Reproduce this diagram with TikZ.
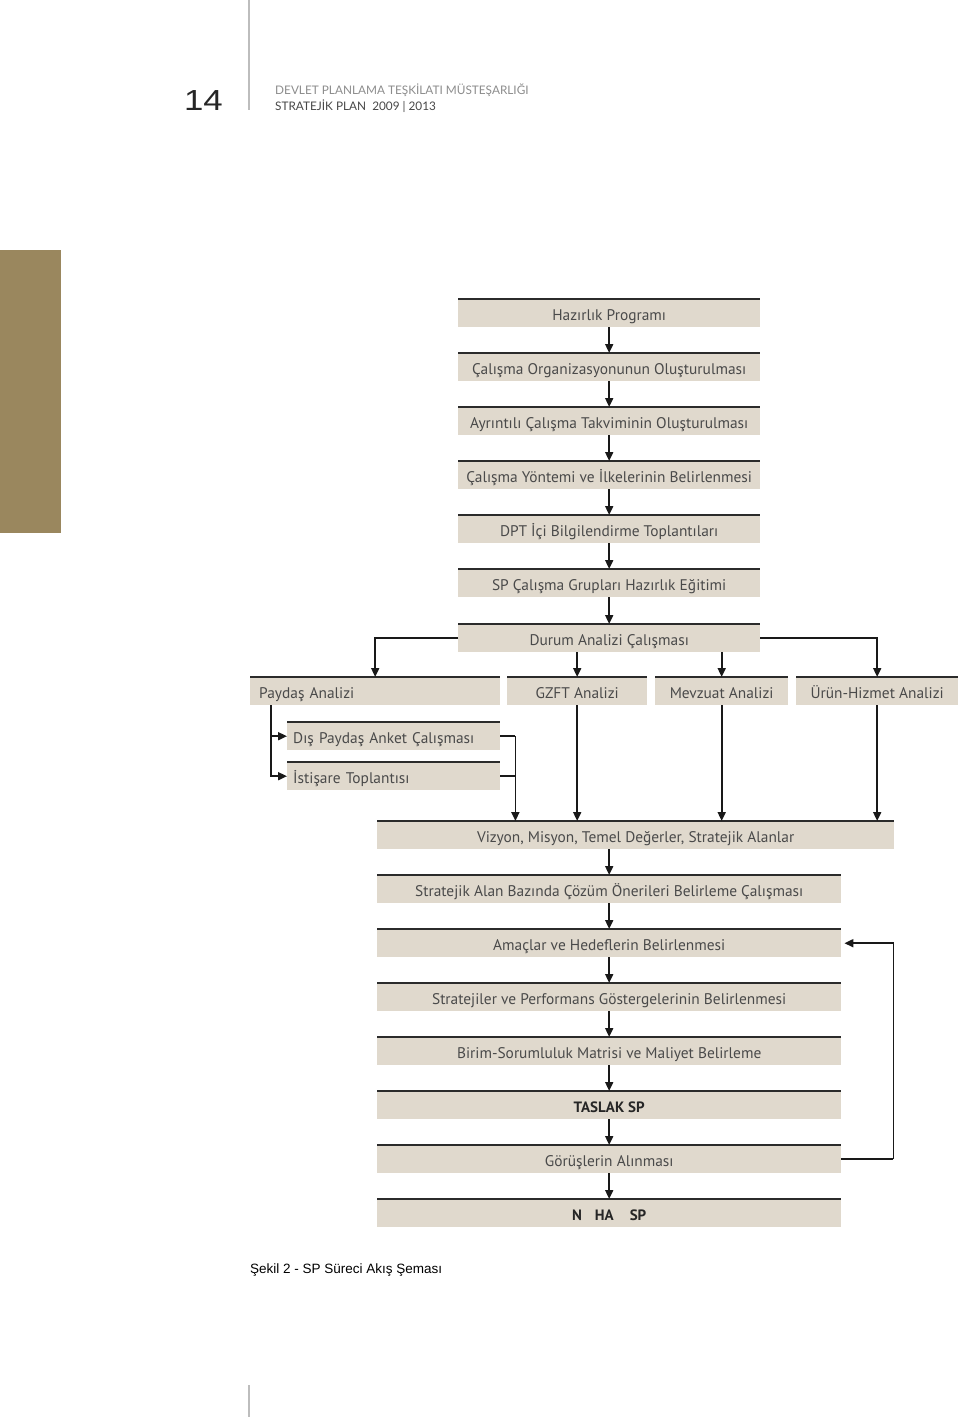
\documentclass[tikz,border=0pt]{standalone}
\usepackage{fontspec}
\setmainfont{PT Sans}
\newfontfamily\headfont{Lato}
\newfontfamily\capfont{Liberation Sans}
\newfontfamily\pagefont[FakeStretch=1.2]{Liberation Sans}
\usetikzlibrary{arrows.meta}
\definecolor{boxfill}{HTML}{E0D9CD}
\definecolor{txtgray}{HTML}{4A4A4A}
\definecolor{topline}{HTML}{2B2B2B}
\definecolor{sidebar}{HTML}{9A875E}
\definecolor{rulegray}{HTML}{BDBDBD}
\tikzset{
  box/.style={fill=boxfill, draw=none, inner sep=0pt, minimum height=28pt,
    text height=14pt, text depth=0pt,
    text=txtgray, font=\fontsize{15.4}{17}\selectfont, anchor=north west,
    append after command={(\tikzlastnode.north west) edge[draw=topline, line width=2.8pt] (\tikzlastnode.north east)}},
  arr/.style={draw=black!90, line width=1.8pt, -{Triangle[length=9pt,width=8pt]}},
  ln/.style={draw=black!90, line width=1.8pt},
}
\begin{document}
\begin{tikzpicture}[x=1pt,y=-1pt]
\useasboundingbox (0,0) rectangle (960,1417);
% header
\draw[rulegray, line width=1.4pt] (249,0) -- (249,110);
\node[anchor=base east, font=\pagefont\fontsize{29}{30}\selectfont, text=black!85, inner sep=0] (pg) at (223,110) {14};
\node[anchor=base west, font=\headfont\fontsize{11.8}{12}\selectfont, text=black!45, inner sep=0] (h1) at (275,94) {DEVLET PLANLAMA TEŞKİLATI MÜSTEŞARLIĞI};
\node[anchor=base west, font=\headfont\fontsize{11.8}{12}\selectfont, text=black!72, inner sep=0] (h2) at (275,110) {STRATEJİK PLAN\ \ 2009 | 2013};
\fill[sidebar] (0,250) rectangle (61,533);
\draw[rulegray, line width=1.4pt] (249,1385) -- (249,1417);
% main chain
\node[box, minimum width=302pt] (hp) at (458,299) {Hazırlık Programı};
\node[box, minimum width=302pt] (co) at (458,353) {Çalışma Organizasyonunun Oluşturulması};
\node[box, minimum width=302pt] (at) at (458,407) {Ayrıntılı Çalışma Takviminin Oluşturulması};
\node[box, minimum width=302pt] (cy) at (458,461) {Çalışma Yöntemi ve İlkelerinin Belirlenmesi};
\node[box, minimum width=302pt] (dpt) at (458,515) {DPT İçi Bilgilendirme Toplantıları};
\node[box, minimum width=302pt] (spc) at (458,569) {SP Çalışma Grupları Hazırlık Eğitimi};
\node[box, minimum width=302pt] (dur) at (458,624) {Durum Analizi Çalışması};
% analysis row
\node[box, minimum width=250pt, text width=232pt, inner xsep=9pt, align=left] (pay) at (250,677) {Paydaş Analizi};
\node[box, minimum width=140pt] (gz) at (507,677) {GZFT Analizi};
\node[box, minimum width=133pt] (mev) at (655,677) {Mevzuat Analizi};
\node[box, minimum width=162pt] (ur) at (796,677) {Ürün-Hizmet Analizi};
\node[box, minimum width=213pt, text width=201pt, inner xsep=6pt, align=left] (dis) at (287,722) {Dış Paydaş Anket Çalışması};
\node[box, minimum width=213pt, text width=201pt, inner xsep=6pt, align=left] (ist) at (287,762) {İstişare Toplantısı};
% lower chain
\node[box, minimum width=517pt] (viz) at (377,821) {Vizyon, Misyon, Temel Değerler, Stratejik Alanlar};
\node[box, minimum width=464pt] (sab) at (377,875) {Stratejik Alan Bazında Çözüm Önerileri Belirleme Çalışması};
\node[box, minimum width=464pt] (am) at (377,929) {Amaçlar ve Hedeflerin Belirlenmesi};
\node[box, minimum width=464pt] (spg) at (377,983) {Stratejiler ve Performans Göstergelerinin Belirlenmesi};
\node[box, minimum width=464pt] (bir) at (377,1037) {Birim-Sorumluluk Matrisi ve Maliyet Belirleme};
\node[box, minimum width=464pt, font=\bfseries\fontsize{15}{17}\selectfont, text=black!85] (tas) at (377,1091) {TASLAK SP};
\node[box, minimum width=464pt] (gor) at (377,1145) {Görüşlerin Alınması};
\node[box, minimum width=464pt, font=\bfseries\fontsize{15}{17}\selectfont, text=black!85] (nih) at (377,1199) {N\hspace{13pt}HA\hspace{16pt}SP};
% caption
\node[anchor=base west, font=\capfont\fontsize{13.5}{14}\selectfont, inner sep=0] (cap) at (250,1273) {Şekil 2 - SP Süreci Akış Şeması};
% connectors
\draw[arr] (hp.south) -- (co.north);
\draw[arr] (co.south) -- (at.north);
\draw[arr] (at.south) -- (cy.north);
\draw[arr] (cy.south) -- (dpt.north);
\draw[arr] (dpt.south) -- (spc.north);
\draw[arr] (spc.south) -- (dur.north);
\draw[arr] (dur.west) -| (pay.north);
\draw[arr] (dur.east) -| (ur.north);
\draw[arr] (dur.south -| gz.north) -- (gz.north);
\draw[arr] (dur.south -| mev.north) -- (mev.north);
\coordinate (pv) at ([xshift=21pt]pay.south west);
\draw[arr] (pv) |- (dis.west);
\draw[arr] (pv) |- (ist.west);
\draw[ln] (dis.east) -- ++(15,0) coordinate (dj);
\draw[ln] (ist.east) -- (ist.east -| dj);
\draw[arr] (dj) -- (dj |- viz.north);
\draw[arr] (gz.south) -- (gz.south |- viz.north);
\draw[arr] (mev.south) -- (mev.south |- viz.north);
\draw[arr] (ur.south) -- (ur.south |- viz.north);
\draw[arr] (viz.south -| sab.north) -- (sab.north);
\draw[arr] (sab.south) -- (am.north);
\draw[arr] (am.south) -- (spg.north);
\draw[arr] (spg.south) -- (bir.north);
\draw[arr] (bir.south) -- (tas.north);
\draw[arr] (tas.south) -- (gor.north);
\draw[arr] (gor.south) -- (nih.north);
\draw[ln] (gor.east) -- ++(52,0) coordinate (fb);
\draw[arr] (fb) -- (fb |- am.east) -- ([xshift=3pt]am.east);
\end{tikzpicture}
\end{document}
